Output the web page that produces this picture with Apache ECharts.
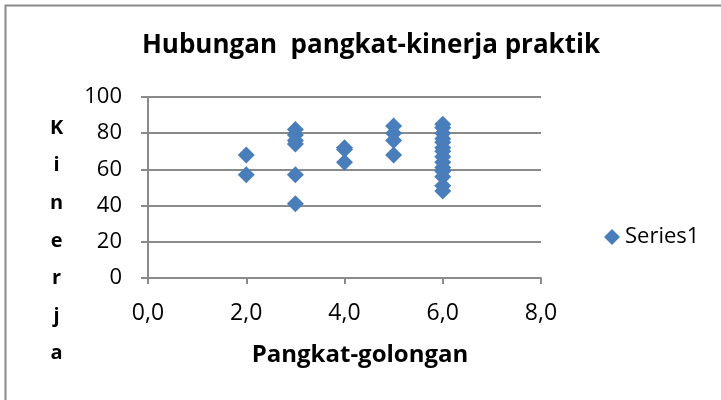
<!DOCTYPE html>
<html>
<head>
<meta charset="utf-8">
<script src="https://cdn.jsdelivr.net/npm/echarts@6/dist/echarts.min.js"></script>
<style>
  html, body { margin: 0; padding: 0; background: #fff; }
  #chart { width: 721px; height: 400px; }
</style>
</head>
<body>
<div id="chart"></div>
<script>
// Rank (pangkat-golongan) against practical performance (kinerja praktik)
const pangkat = [2, 2, 3, 3, 3, 3, 3, 3, 4, 4, 4, 5, 5, 5, 5,
  6, 6, 6, 6, 6, 6, 6, 6, 6, 6, 6, 6, 6, 6];
const kinerja = [68, 57, 82, 79, 76, 74, 57, 41, 72, 71, 64, 84, 80, 76, 68,
  85, 83, 80, 77, 75, 72, 70, 67, 64, 61, 59, 56, 51, 48];
const seriesName = 'Series1';
const chartTitle = 'Hubungan  pangkat-kinerja praktik';
const xTitle = 'Pangkat-golongan';
const yTitle = 'Kinerja';

const FONT = '"Open Sans", sans-serif';
const points = pangkat.map((x, i) => [x, kinerja[i]]);

const chart = echarts.init(document.getElementById('chart'));
chart.setOption({
  animation: false,
  backgroundColor: '#fff',
  title: {
    text: chartTitle,
    left: 366, top: 28, textAlign: 'center',
    textStyle: { fontFamily: FONT, fontWeight: 'bold', fontSize: 26, color: '#000' }
  },
  legend: {
    data: [{ name: seriesName, icon: 'diamond' }],
    left: 599, top: 221,
    itemWidth: 16, itemHeight: 16, itemGap: 6,
    textStyle: { fontFamily: FONT, fontSize: 22, color: '#000' }
  },
  graphic: [
    {
      type: 'rect', left: 3, top: 3, silent: true,
      shape: { width: 740, height: 420 },
      style: { fill: 'none', stroke: '#8a8a8a', lineWidth: 2 }
    },
    {
      type: 'group', left: 50, top: 118,
      children: yTitle.split('').map((ch, i) => ({
        type: 'text', x: 12, y: i * 37.6, silent: true,
        style: { text: ch, fontFamily: FONT, fontWeight: 'bold', fontSize: 20,
                 fill: '#000', align: 'center' }
      }))
    },
    {
      type: 'text', x: 360, y: 355, silent: true,
      style: { text: xTitle, fontFamily: FONT, fontWeight: 'bold', fontSize: 24,
               fill: '#000', align: 'center', verticalAlign: 'middle' }
    }
  ],
  grid: { left: 148, right: 180, top: 97, bottom: 122 },
  xAxis: {
    type: 'value', min: 0, max: 8, interval: 2,
    axisLine: { show: true, onZero: false, lineStyle: { color: '#8a8a8a', width: 2 } },
    axisTick: { show: true, length: 6, lineStyle: { color: '#8a8a8a', width: 2 } },
    axisLabel: {
      margin: 24, fontFamily: FONT, fontSize: 23, color: '#000',
      formatter: v => v.toFixed(1).replace('.', ',')
    },
    splitLine: { show: false }
  },
  yAxis: {
    type: 'value', min: 0, max: 100, interval: 20,
    axisLine: { show: true, lineStyle: { color: '#8a8a8a', width: 2 } },
    axisTick: { show: true, length: 7, lineStyle: { color: '#8a8a8a', width: 2 } },
    axisLabel: { margin: 26, fontFamily: FONT, fontSize: 22, color: '#000' },
    splitLine: { show: true, lineStyle: { color: '#8a8a8a', width: 2 } }
  },
  series: [{
    name: seriesName,
    type: 'scatter',
    symbol: 'diamond',
    symbolSize: 17,
    itemStyle: { color: '#4a7ebb', opacity: 1 },
    data: points
  }]
});
</script>
</body>
</html>
